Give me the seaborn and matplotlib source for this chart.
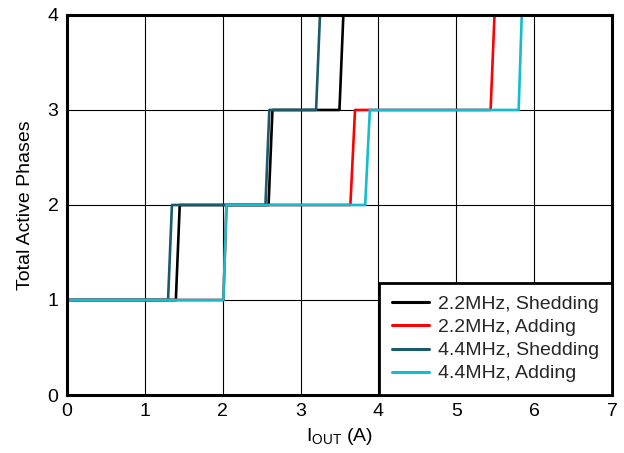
import pandas as pd
import seaborn as sns
import matplotlib.pyplot as plt

# phase count vs output current
shed_22_x = [0, 1.40, 1.45, 2.59, 2.64, 3.50, 3.55]
shed_22_y = [1, 1, 2, 2, 3, 3, 4]
add_22_x = [0, 2.01, 2.05, 3.64, 3.70, 5.44, 5.49]
add_22_y = [1, 1, 2, 2, 3, 3, 4]
shed_44_x = [0, 1.30, 1.35, 2.55, 2.60, 3.20, 3.25]
shed_44_y = [1, 1, 2, 2, 3, 3, 4]
add_44_x = [0, 2.01, 2.05, 3.83, 3.89, 5.80, 5.84]
add_44_y = [1, 1, 2, 2, 3, 3, 4]

labels = ["2.2MHz, Shedding", "2.2MHz, Adding", "4.4MHz, Shedding", "4.4MHz, Adding"]
colors = ["#000000", "#FF0000", "#1A5A6A", "#14BCD0"]
xticks = [0, 1, 2, 3, 4, 5, 6, 7]
yticks = [0, 1, 2, 3, 4]

frames = []
for lab, xs, ys in zip(labels,
                       [shed_22_x, add_22_x, shed_44_x, add_44_x],
                       [shed_22_y, add_22_y, shed_44_y, add_44_y]):
    frames.append(pd.DataFrame({"I": xs, "N": ys, "series": lab}))
df = pd.concat(frames, ignore_index=True)

sns.set_style("white")
plt.rcParams["font.family"] = ["Liberation Sans", "DejaVu Sans"]
plt.rcParams["mathtext.default"] = "regular"

fig = plt.figure(figsize=(6.24, 4.53), dpi=100)
ax = fig.add_axes([0.107, 0.128, 0.874, 0.839])

sns.lineplot(data=df, x="I", y="N", hue="series", hue_order=labels,
             palette=colors, estimator=None, sort=False, linewidth=1.9, ax=ax)

ax.set_xlim(0, 7)
ax.set_ylim(0, 4)
ax.set_xticks(xticks)
ax.set_yticks(yticks)
ax.grid(True, color="black", linewidth=0.8)
ax.set_axisbelow(True)
ax.tick_params(length=0, labelsize=14, pad=6, colors="black")
for s in ax.spines.values():
    s.set_linewidth(2.2)
    s.set_color("black")

ax.set_xlabel("I$_{OUT}$ (A)", fontsize=14, color="black", labelpad=4)
ax.set_ylabel("Total Active Phases", fontsize=14, color="black", labelpad=10)

leg = ax.legend(loc="lower right", fontsize=14, frameon=True, fancybox=False,
                framealpha=1, edgecolor="black", borderaxespad=0,
                labelspacing=0.28, handlelength=1.9, borderpad=0.65,
                handletextpad=0.5)
leg.get_frame().set_linewidth(2)
for line in leg.get_lines():
    line.set_linewidth(2.2)

fig.savefig("out.png", dpi=100)
